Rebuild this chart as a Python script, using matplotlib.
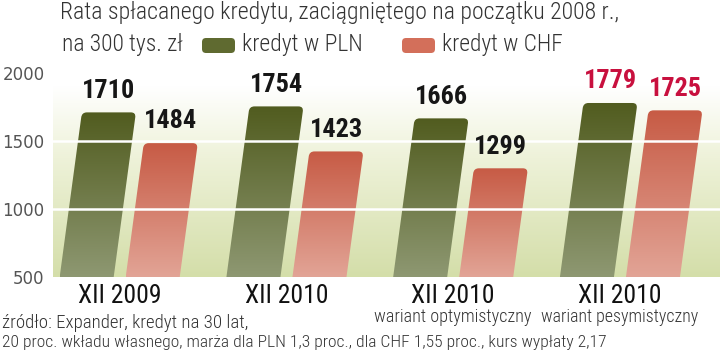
import numpy as np
import matplotlib.pyplot as plt
import matplotlib.colors as mcolors
from matplotlib import font_manager as fm
from matplotlib.patches import FancyBboxPatch
from matplotlib.transforms import Affine2D

# === data ===
periods = ["XII 2009", "XII 2010", "XII 2010", "XII 2010"]
variants = ["", "", "wariant optymistyczny", "wariant pesymistyczny"]
pln = [1710, 1754, 1666, 1779]
chf = [1484, 1423, 1299, 1725]
highlight = [False, False, False, True]
yticks = [500, 1000, 1500, 2000]

title1 = "Rata spłacanego kredytu, zaciągniętego na początku 2008 r.,"
title2 = "na 300 tys. zł"
leg_pln = "kredyt w PLN"
leg_chf = "kredyt w CHF"
note1 = "źródło: Expander, kredyt na 30 lat,"
note2 = "20 proc. wkładu własnego, marża dla PLN 1,3 proc., dla CHF 1,55 proc., kurs wypłaty 2,17"

# pick a narrow family if one is installed
names = {f.name for f in fm.fontManager.ttflist}
narrow = [n for n in ["Liberation Sans Narrow", "Roboto Condensed",
                      "Open Sans Condensed", "DejaVu Sans Condensed"] if n in names]
FAM = [narrow[0] if narrow else "Liberation Sans", "DejaVu Sans"]
TXT = "#333333"

W, H = 720, 356
fig = plt.figure(figsize=(W / 100, H / 100), dpi=100)
ax = fig.add_axes([53 / W, 1 - 277 / H, 1 - 53 / W, (277 - 60) / H])
ax.set_xlim(-0.40, 3.60)
ax.set_ylim(500, 2095)
ax.set_autoscale_on(False)
for s in ax.spines.values():
    s.set_visible(False)

# background gradient (pale green at bottom -> white at top)
grad = np.linspace(0, 1, 256).reshape(-1, 1)
bg_cmap = mcolors.LinearSegmentedColormap.from_list(
    "bg", [(0, "#d4dea9"), (0.55, "#eef2d9"), (0.88, "#ffffff"), (1, "#ffffff")])
ax.imshow(grad, cmap=bg_cmap, aspect="auto", origin="lower",
          extent=[-0.40, 3.60, 500, 2095], zorder=0)

# slanted bars: skew in display space around the baseline
k = 0.135
y0 = ax.transData.transform((0, 500))[1]
skew = Affine2D().translate(0, -y0).skew(np.arctan(k), 0).translate(0, y0)
trans = ax.transData + skew

green_cmap = mcolors.LinearSegmentedColormap.from_list("g", ["#8e9872", "#515c1f"])
red_cmap = mcolors.LinearSegmentedColormap.from_list("r", ["#e2a496", "#c75b45"])

w = 0.324
off = 0.198
px_x = (W - 53) / 4.0
px_y = 217 / 1595
asp = px_x / px_y
r = 5 / px_x

fits = []  # (text, target width in px)


def draw_bar(xc, v, cmap, color):
    box = FancyBboxPatch((xc - w / 2, 300), w, v - 300,
                         boxstyle=f"round,pad=0,rounding_size={r}",
                         mutation_aspect=asp, transform=trans,
                         facecolor="none", edgecolor="none")
    ax.add_patch(box)
    im = ax.imshow(grad, cmap=cmap, aspect="auto", origin="lower",
                   extent=[xc - w / 2, xc + w / 2 + 0.35, 500, v], zorder=2)
    im.set_clip_path(box)
    t = ax.annotate(f"{v}", xy=(xc, v), xycoords=trans, xytext=(0, 7),
                    textcoords="offset points", ha="center", va="bottom",
                    fontsize=20, fontweight="bold", family=FAM,
                    fontstretch="condensed", color=color, zorder=5)
    fits.append((t, 53))


for i in range(len(periods)):
    col = "#c8103e" if highlight[i] else "#161616"
    draw_bar(i - off, pln[i], green_cmap, col)
    draw_bar(i + off, chf[i], red_cmap, col)

for y in yticks[1:]:
    ax.axhline(y, color="white", lw=1.8, zorder=4)

ax.set_yticks(yticks)
ax.set_yticklabels([str(t) for t in yticks], fontsize=12, color="#555555")
ax.tick_params(axis="y", length=0, pad=6)
ax.set_xticks([])

for i in range(len(periods)):
    t = ax.annotate(periods[i], xy=(i, 0), xycoords=ax.get_xaxis_transform(),
                    xytext=(0, -19), textcoords="offset pixels", ha="center",
                    va="center", fontsize=15, family=FAM, color="#111111")
    fits.append((t, 83))
    if variants[i]:
        t = ax.annotate(variants[i], xy=(i, 0), xycoords=ax.get_xaxis_transform(),
                        xytext=(0, -40), textcoords="offset pixels", ha="center",
                        va="center", fontsize=12, family=FAM, fontweight="light",
                        color=TXT)
        fits.append((t, 158))

# title and legend
t = fig.text(60 / W, 1 - 13 / H, title1, fontsize=14, family=FAM,
             fontweight="light", color=TXT, va="center")
fits.append((t, 557))
t = fig.text(62 / W, 1 - 45 / H, title2, fontsize=14, family=FAM,
             fontweight="light", color=TXT, va="center")
fits.append((t, 121))
for x0, c, lab in [(202, "#5f6a30", leg_pln), (402, "#d36f5a", leg_chf)]:
    p = FancyBboxPatch((x0 / W, 1 - 53 / H), 33 / W, 15 / H,
                       boxstyle=f"round,pad=0,rounding_size={4 / W}",
                       mutation_aspect=W / H, transform=fig.transFigure,
                       facecolor=c, edgecolor="none")
    fig.patches.append(p)
    t = fig.text((x0 + 40) / W, 1 - 45 / H, lab, fontsize=14, family=FAM,
                 fontweight="light", color=TXT, va="center")
    fits.append((t, 121))

t = fig.text(2 / W, 1 - 323 / H, note1, fontsize=12, family=FAM,
             fontweight="light", color=TXT, va="center")
fits.append((t, 246))
t = fig.text(2 / W, 1 - 343 / H, note2, fontsize=12, family=FAM,
             fontweight="light", color=TXT, va="center")
fits.append((t, 603))

# scale every text so that its width matches the reference
fig.canvas.draw()
rend = fig.canvas.get_renderer()
for t, target in fits:
    bb = t.get_window_extent(rend)
    t.set_fontsize(t.get_fontsize() * target / bb.width)

fig.savefig("out.png", dpi=100)
